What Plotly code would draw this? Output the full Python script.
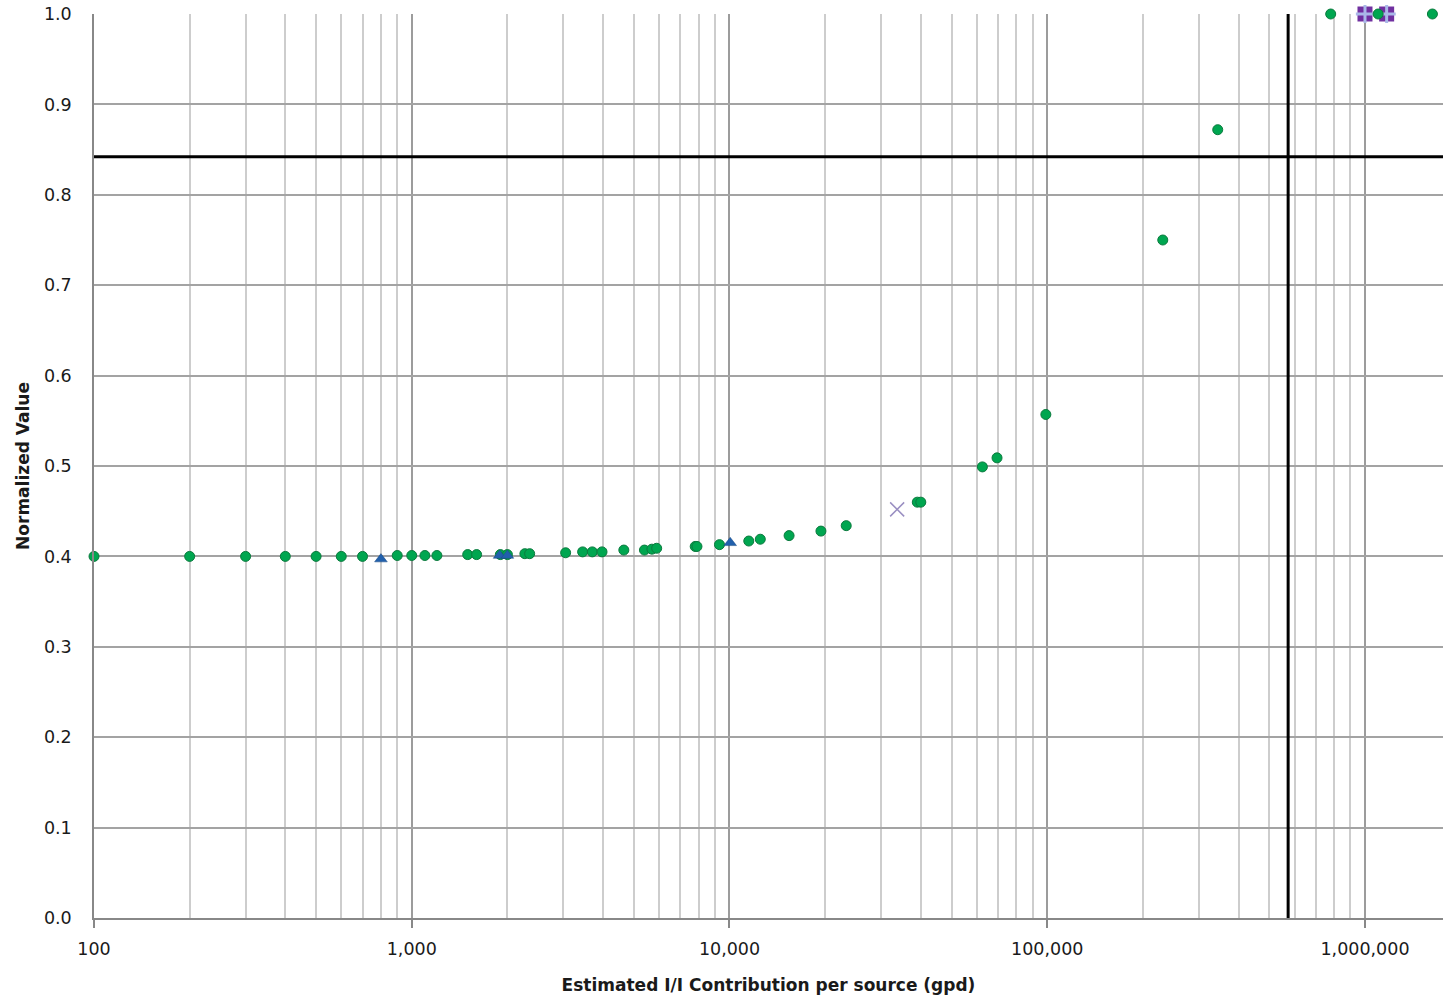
import math
import plotly.graph_objects as go

# ---- data ----
green_x = [100, 200, 300, 400, 500, 600, 700, 900, 1000, 1100, 1200, 1500, 1600,
           1900, 2000, 2270, 2350, 3050, 3450, 3700, 3970, 4650, 5400, 5700, 5900,
           7800, 7900, 9300, 11500, 12500, 15400, 19400, 23300, 39000, 40000,
           62500, 69500, 99000, 231000, 344000, 780000, 1100000, 1630000]
green_y = [0.400, 0.400, 0.400, 0.400, 0.400, 0.400, 0.400, 0.401, 0.401, 0.401, 0.401, 0.402, 0.402,
           0.402, 0.402, 0.403, 0.403, 0.404, 0.405, 0.405, 0.405, 0.407, 0.407, 0.408, 0.409,
           0.411, 0.411, 0.413, 0.417, 0.419, 0.423, 0.428, 0.434, 0.460, 0.460,
           0.499, 0.509, 0.557, 0.750, 0.872, 1.0, 1.0, 1.0]

tri_x = [800, 1890, 2000, 10050]
tri_y = [0.397, 0.401, 0.401, 0.415]

xmark_x = [33700]
xmark_y = [0.452]

square_x = [1000000, 1170000]
square_y = [1.0, 1.0]

h_ref = 0.842      # horizontal reference line
v_ref = 573000     # vertical reference line

x_min, x_max = 100, 1760000
x_tickvals = [100, 1000, 10000, 100000, 1000000]
x_ticktext = ["100", "1,000", "10,000", "100,000", "1,000,000"]
minor_vals = [m * 10 ** k for k in range(2, 7) for m in range(2, 10)]

FONT = "DejaVu Sans"

fig = go.Figure()

fig.add_trace(go.Scatter(
    x=square_x, y=square_y, mode="markers", cliponaxis=False,
    marker=dict(symbol="square", size=15, color="#7030A0", line=dict(width=0)),
    hoverinfo="x+y"))
fig.add_trace(go.Scatter(
    x=square_x, y=square_y, mode="markers", cliponaxis=False,
    marker=dict(symbol="cross-thin-open", size=13, color="#A9B8E8",
                line=dict(width=3, color="#A9B8E8")),
    hoverinfo="skip"))
fig.add_trace(go.Scatter(
    x=green_x, y=green_y, mode="markers", cliponaxis=False,
    marker=dict(symbol="circle", size=10, color="#00A650",
                line=dict(width=1, color="#0B7A3E"))))
fig.add_trace(go.Scatter(
    x=tri_x, y=tri_y, mode="markers", cliponaxis=False,
    marker=dict(symbol="triangle-up", size=11, color="#2160AC",
                line=dict(width=0.5, color="#1A4A85"))))
fig.add_trace(go.Scatter(
    x=xmark_x, y=xmark_y, mode="markers", cliponaxis=False,
    marker=dict(symbol="x-thin-open", size=14, color="#9A8FC2",
                line=dict(width=1.5, color="#9A8FC2"))))

fig.add_hline(y=h_ref, line=dict(color="black", width=3), layer="above")
fig.add_vline(x=v_ref, line=dict(color="black", width=3), layer="above")

fig.update_layout(
    width=1443, height=997,
    margin=dict(l=94, r=0, t=14, b=79),
    paper_bgcolor="white", plot_bgcolor="white",
    showlegend=False,
    font=dict(family=FONT, size=16, color="#1a1a1a"),
)

fig.update_xaxes(
    type="log",
    range=[math.log10(x_min), math.log10(x_max)],
    tickvals=x_tickvals, ticktext=x_ticktext,
    ticks="outside", ticklen=8, tickwidth=1.5, tickcolor="#888888",
    ticklabelstandoff=6,
    showgrid=True, gridcolor="#9c9c9c", gridwidth=1.5,
    minor=dict(tickvals=minor_vals, showgrid=True, gridcolor="#cdcdcd",
               gridwidth=1.5, ticks=""),
    showline=True, linecolor="#888888", linewidth=1.5,
    zeroline=False,
    title=dict(text="<b>Estimated I/I Contribution per source (gpd)</b>",
               font=dict(family=FONT, size=17, color="#1a1a1a"), standoff=21),
    tickfont=dict(family=FONT, size=17.5, color="#1a1a1a"),
)

fig.update_yaxes(
    range=[0, 1], dtick=0.1, tickformat=".1f",
    ticks="", ticklabelstandoff=17,
    showgrid=True, gridcolor="#a3a3a3", gridwidth=1.5,
    showline=True, linecolor="#888888", linewidth=1.5,
    zeroline=False,
    title=dict(text="<b>Normalized Value</b>",
               font=dict(family=FONT, size=17, color="#1a1a1a"), standoff=10),
    tickfont=dict(family=FONT, size=17.5, color="#1a1a1a"),
)

fig.write_html(
    "out.html",
    config={"displayModeBar": False},
    post_script="document.body.style.margin='0';document.body.style.overflow='hidden';",
)
